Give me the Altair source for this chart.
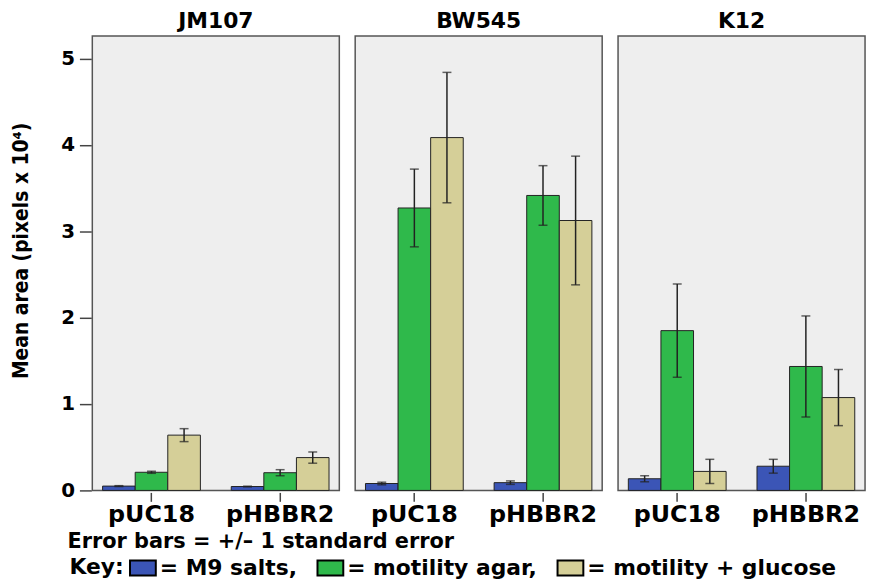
import altair as alt
import pandas as pd

strains = ["JM107", "BW545", "K12"]
plasmids = ["pUC18", "pHBBR2"]
media = ["M9 salts", "motility agar", "motility + glucose"]

# mean area (pixels x 10^4), order: strain -> plasmid -> medium
means = {
    ("JM107", "pUC18"): [0.05, 0.21, 0.64],
    ("JM107", "pHBBR2"): [0.045, 0.205, 0.38],
    ("BW545", "pUC18"): [0.08, 3.27, 4.085],
    ("BW545", "pHBBR2"): [0.09, 3.415, 3.125],
    ("K12", "pUC18"): [0.135, 1.85, 0.22],
    ("K12", "pHBBR2"): [0.28, 1.435, 1.075],
}
# standard errors
ses = {
    ("JM107", "pUC18"): [0.005, 0.012, 0.075],
    ("JM107", "pHBBR2"): [0.004, 0.035, 0.065],
    ("BW545", "pUC18"): [0.015, 0.45, 0.755],
    ("BW545", "pHBBR2"): [0.02, 0.345, 0.745],
    ("K12", "pUC18"): [0.035, 0.54, 0.14],
    ("K12", "pHBBR2"): [0.08, 0.585, 0.325],
}
colors = ["#3b55b6", "#2fb94b", "#d5cf98"]
note = ["Error bars = +/\u2013 1 standard error"]

rows = []
for s in strains:
    for p in plasmids:
        for m, v, e in zip(media, means[(s, p)], ses[(s, p)]):
            rows.append({"strain": s, "plasmid": p, "medium": m,
                         "mean": v, "lo": v - e, "hi": v + e})
df = pd.DataFrame(rows)

FONT = "DejaVu Sans"
NARROW = "DejaVu Sans Condensed, Liberation Sans Narrow, sans-serif"

x = alt.X("plasmid:N", sort=plasmids, title=None,
          scale=alt.Scale(paddingInner=0.24, paddingOuter=0.08),
          axis=alt.Axis(labelAngle=0, domain=False, ticks=True, tickSize=9,
                        tickWidth=1.5, tickColor="#444", labelFontSize=24,
                        labelFontWeight="bold", labelColor="black",
                        labelPadding=1, labelFont=FONT))
xo = alt.XOffset("medium:N", sort=media, scale=alt.Scale(paddingInner=0, paddingOuter=0))
color = alt.Color("medium:N", sort=media,
                  scale=alt.Scale(domain=media, range=colors),
                  legend=alt.Legend(
                      title="Key:", titleOrient="left", orient="none",
                      legendX=-23, legendY=522,
                      direction="horizontal",
                      symbolType="M-1,-0.58H1V0.58H-1Z",
                      symbolSize=676, symbolStrokeColor="black",
                      symbolStrokeWidth=2, symbolOpacity=1,
                      labelFontSize=22, labelFontWeight="bold",
                      labelColor="black", labelFont=FONT,
                      titleFontSize=22, titleFontWeight="bold",
                      titleColor="black", titleFont=FONT, titlePadding=5,
                      labelOffset=3, columnPadding=16, symbolOffset=0,
                      labelLimit=400,
                      labelExpr="datum.label == 'motility + glucose' ? '= ' + datum.label : '= ' + datum.label + ','"))

y = alt.Y("mean:Q", title="Mean area (pixels x 10\u2074)",
          scale=alt.Scale(domain=[0, 5.26], nice=False),
          axis=alt.Axis(values=[0, 1, 2, 3, 4, 5], format="d", grid=False,
                        domain=False, tickSize=12, tickWidth=1.5,
                        tickColor="#444", labelFontSize=20,
                        labelFontWeight="bold", labelColor="black",
                        labelFont=FONT, labelPadding=5,
                        titleFont=NARROW, titleFontSize=21,
                        titleFontWeight="bold", titleColor="black",
                        titlePadding=29, titleY=216))

base = alt.Chart(df)
bars = base.mark_bar(stroke="#222", strokeWidth=1).encode(
    x=x, xOffset=xo, y=y, color=color)
err = base.mark_rule(color="#222", strokeWidth=1.5).encode(
    x=x, xOffset=xo, y="lo:Q", y2="hi:Q")
cap_lo = base.mark_tick(color="#222", thickness=1.5, size=9).encode(
    x=x, xOffset=xo, y="lo:Q")
cap_hi = base.mark_tick(color="#222", thickness=1.5, size=9).encode(
    x=x, xOffset=xo, y="hi:Q")

panel = alt.layer(bars, err, cap_lo, cap_hi).properties(
    width=249, height=458,
    view=alt.ViewBackground(fill="#eeeeee", stroke="#555", strokeWidth=1.5))

facet = panel.facet(
    column=alt.Column("strain:N", sort=strains, title=None,
                      header=alt.Header(labelFontSize=22, labelFontWeight="bold",
                                        labelFont=FONT, labelColor="black",
                                        labelPadding=2)),
    spacing=14,
)

note_chart = alt.Chart(pd.DataFrame({"t": note})).mark_text(
    align="left", baseline="middle", fontSize=21, fontWeight="bold",
    font=FONT, color="black").encode(
    text="t:N", x=alt.value(-25), y=alt.value(8)
).properties(width=770, height=16,
             view=alt.ViewBackground(fill="transparent", stroke="transparent"))

chart = alt.vconcat(facet, note_chart, spacing=4).properties(
    padding={"left": 3, "top": 0, "right": 5, "bottom": 0}
).configure(background="white").configure_view(strokeWidth=1.5)

chart.save("out.html", embed_options={"renderer": "svg", "actions": False})
